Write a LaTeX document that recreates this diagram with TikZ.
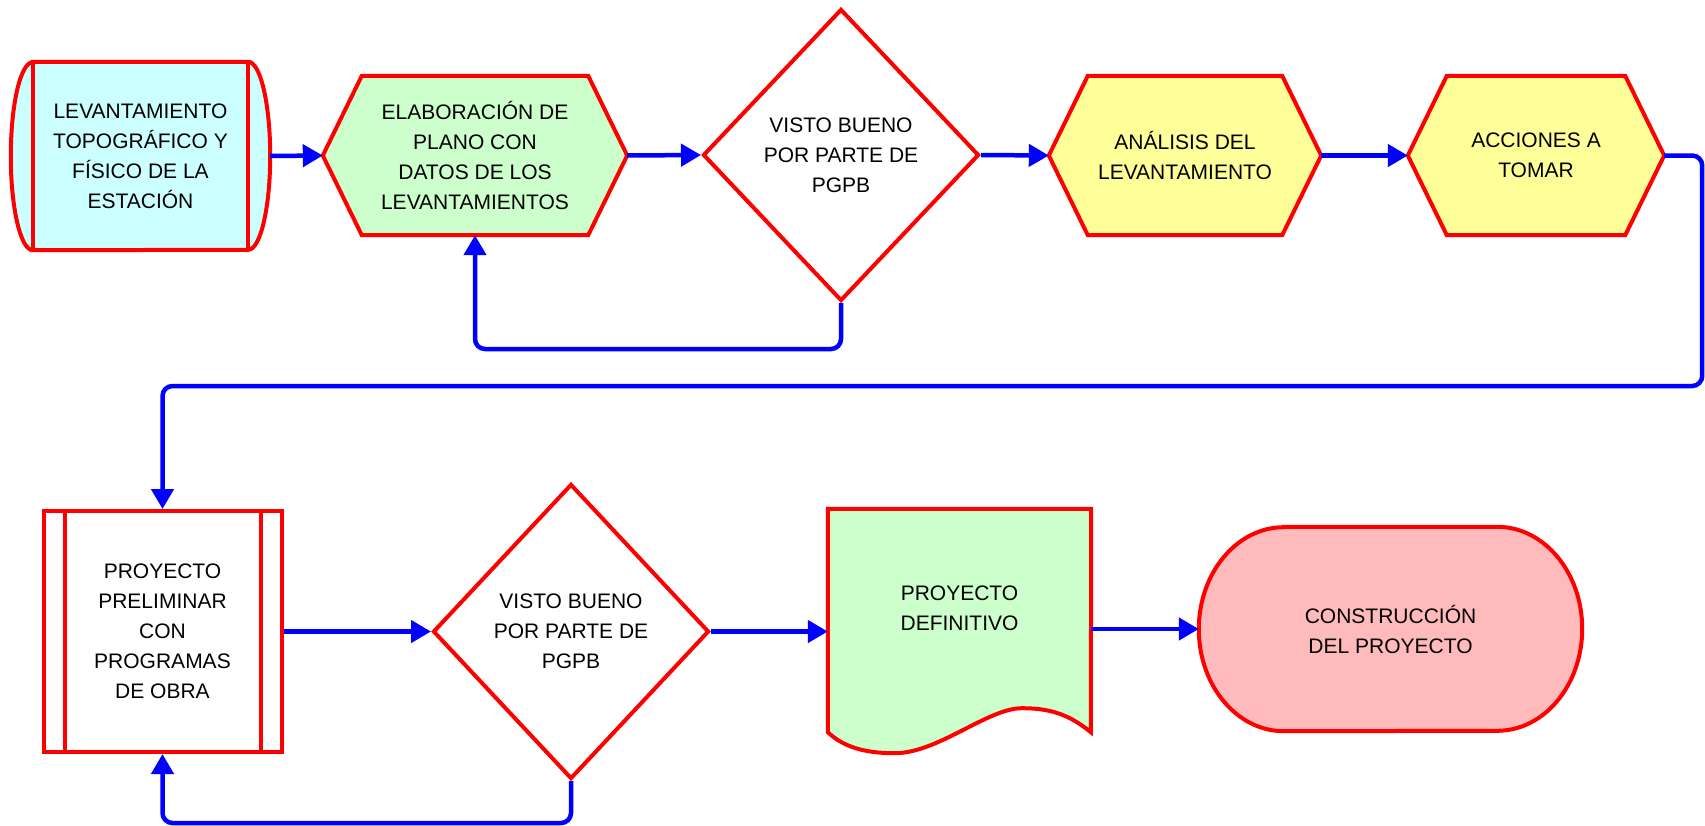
\documentclass[tikz,border=0pt]{standalone}
\usepackage{fontspec}
\setmainfont{Liberation Sans}
\usetikzlibrary{calc,backgrounds,shapes.geometric,arrows.meta}
\definecolor{rojo}{HTML}{FF0000}
\definecolor{azul}{HTML}{0000FF}
\definecolor{celeste}{HTML}{CCFFFF}
\definecolor{verdeclaro}{HTML}{CCFFCC}
\definecolor{amarillo}{HTML}{FFFF99}
\definecolor{rosa}{HTML}{FFBBBB}

\begin{document}
\begin{tikzpicture}[x=1pt, y=1pt,
    caja/.style={draw=none, inner sep=0pt, align=center, font=\fontsize{21}{30}\selectfont},
    borde/.style={draw=rojo, line width=4pt},
    flecha/.style={draw=azul, line width=4.5pt, rounded corners=10pt, -{Triangle[length=20pt, width=22pt]}}]

    \useasboundingbox (0,0) rectangle (1705,-825);

    % fila superior
    \node[caja, minimum width=259pt, minimum height=188pt] (levant) at (140.5,-156) {LEVANTAMIENTO\\TOPOGRÁFICO Y\\FÍSICO DE LA\\ESTACIÓN};
    \node[caja, minimum width=304pt, minimum height=159pt] (plano) at (475,-155.5) {ELABORACIÓN DE\\PLANO CON\\DATOS DE LOS\\LEVANTAMIENTOS};
    \node[caja, diamond, borde, fill=white, minimum width=276pt, minimum height=292pt] (visto1) at (841,-155) {VISTO BUENO\\POR PARTE DE\\PGPB};
    \node[caja, minimum width=272pt, minimum height=159pt] (analisis) at (1185,-155.5) {ANÁLISIS DEL\\LEVANTAMIENTO};
    \node[caja, minimum width=256pt, minimum height=159pt] (acciones) at (1536,-155.5) {ACCIONES A\\TOMAR};

    % fila inferior
    \node[caja, borde, fill=white, minimum width=238pt, minimum height=241pt] (preliminar) at (162.5,-631.5) {PROYECTO\\PRELIMINAR\\CON\\PROGRAMAS\\DE OBRA};
    \node[caja, diamond, borde, fill=white, minimum width=276pt, minimum height=295pt] (visto2) at (571,-631.5) {VISTO BUENO\\POR PARTE DE\\PGPB};
    \node[caja, minimum width=263pt, minimum height=199pt] (definitivo) at (959.5,-608.5) {PROYECTO\\DEFINITIVO};
    \node[caja, minimum width=383pt, minimum height=204pt] (construccion) at (1390.5,-629) {CONSTRUCCIÓN\\DEL PROYECTO};

    \draw[borde] ($(preliminar.north west)+(23,0)$) -- ($(preliminar.south west)+(23,0)$)
        ($(preliminar.north east)+(-23,0)$) -- ($(preliminar.south east)+(-23,0)$);

    \begin{scope}[on background layer]
        \filldraw[borde, fill=celeste] ($(levant.north west)+(22,0)$) -- ($(levant.north east)+(-22,0)$)
            arc[start angle=90, end angle=-90, x radius=22pt, y radius=94pt] -- ($(levant.south west)+(22,0)$)
            arc[start angle=270, end angle=90, x radius=22pt, y radius=94pt] -- cycle;
        \draw[borde] ($(levant.north west)+(22,0)$) -- ($(levant.south west)+(22,0)$)
            ($(levant.north east)+(-22,0)$) -- ($(levant.south east)+(-22,0)$);

        \foreach \n/\c in {plano/verdeclaro, analisis/amarillo, acciones/amarillo}
            \filldraw[borde, fill=\c] ($(\n.north west)+(39,0)$) -- ($(\n.north east)+(-39,0)$) -- (\n.east)
                -- ($(\n.south east)+(-39,0)$) -- ($(\n.south west)+(39,0)$) -- (\n.west) -- cycle;

        \begin{scope}[shift={(definitivo.south west)}]
            \filldraw[borde, fill=verdeclaro] (definitivo.north west) -- (definitivo.north east) -- (263,-24)
                .. controls (240,-5) and (220,0) .. (194,0)
                .. controls (160,0) and (110,-45) .. (67,-45)
                .. controls (35,-45) and (15,-38) .. (0,-24) -- cycle;
        \end{scope}

        \filldraw[borde, fill=rosa] ($(construccion.north west)+(85,0)$) -- ($(construccion.north east)+(-85,0)$)
            arc[start angle=90, end angle=-90, x radius=85pt, y radius=102pt] -- ($(construccion.south west)+(85,0)$)
            arc[start angle=270, end angle=90, x radius=85pt, y radius=102pt] -- cycle;
    \end{scope}

    % conectores
    \draw[flecha] (levant.east) -- (plano.west);
    \draw[flecha] (plano.east) -- (visto1.west);
    \draw[flecha] (visto1.south) -- ++(0,-46) -| (plano.south);
    \draw[flecha] (visto1.east) -- (analisis.west);
    \draw[flecha] (analisis.east) -- (acciones.west);
    \draw[flecha] (acciones.east) -- ++(38,0) -- ++(0,-230.5) -| (preliminar.north);
    \draw[flecha] (preliminar.east) -- (visto2.west);
    \draw[flecha] (visto2.south) -- ++(0,-42) -| (preliminar.south);
    \draw[flecha] (visto2.east) -- (visto2.east -| definitivo.west);
    \draw[flecha] (definitivo.east |- construccion.west) -- (construccion.west);
\end{tikzpicture}
\end{document}
